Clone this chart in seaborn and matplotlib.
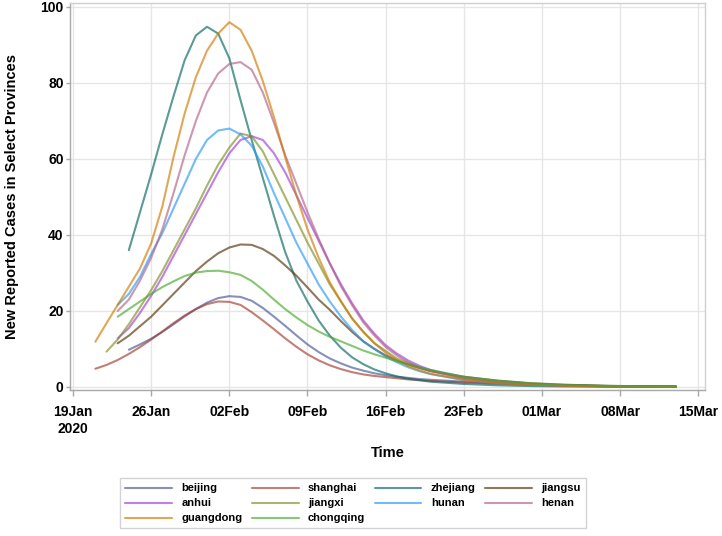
import pandas as pd
import seaborn as sns
import matplotlib.pyplot as plt

# ---- data ----
provinces = ["beijing", "shanghai", "zhejiang", "jiangsu", "anhui",
             "jiangxi", "hunan", "henan", "guangdong", "chongqing"]
start_dates = {"beijing": "2020-01-24", "shanghai": "2020-01-21", "zhejiang": "2020-01-24",
               "jiangsu": "2020-01-23", "anhui": "2020-01-23", "jiangxi": "2020-01-22",
               "hunan": "2020-01-23", "henan": "2020-01-23", "guangdong": "2020-01-21",
               "chongqing": "2020-01-23"}
daily_end = "2020-02-20"
tail_dates = ["2020-02-23", "2020-02-26", "2020-02-29", "2020-03-03", "2020-03-07", "2020-03-13"]

beijing = [9.8, 11.2, 12.7, 14.5, 16.5, 18.6, 20.5, 22.2, 23.4, 23.9, 23.7, 22.7, 20.8, 18.5,
           16.1, 13.6, 11.2, 9.2, 7.5, 6.2, 5.1, 4.3, 3.6, 3.1, 2.7, 2.4, 2.1, 1.9,
           1.4, 1.0, 0.7, 0.45, 0.25, 0.1]
shanghai = [4.8, 5.8, 7.1, 8.7, 10.5, 12.5, 14.6, 16.8, 18.8, 20.5, 21.8, 22.5, 22.4, 21.6,
            19.7, 17.5, 15.2, 12.8, 10.6, 8.6, 7.0, 5.7, 4.7, 3.9, 3.3, 2.9, 2.6, 2.3, 2.0,
            1.8, 1.6, 1.2, 0.9, 0.6, 0.4, 0.2, 0.1]
zhejiang = [36, 46, 56, 66.5, 76.5, 86, 92.5, 94.8, 93, 86.5, 75.5, 65, 55, 45, 35.5, 28,
            22.5, 17.5, 13.5, 10.3, 7.8, 6.0, 4.6, 3.6, 2.8, 2.2, 1.8, 1.4,
            0.8, 0.45, 0.25, 0.15, 0.08, 0.03]
jiangsu = [11.5, 13.5, 16, 18.5, 21.5, 24.5, 27.5, 30.5, 33, 35.2, 36.7, 37.5, 37.4, 36.3,
           34.5, 32, 29.3, 26.2, 23, 20.3, 17.3, 14.5, 12, 10, 8.3, 7, 5.9, 5.0, 4.2,
           2.7, 1.7, 1.0, 0.6, 0.3, 0.1]
anhui = [12.8, 15.5, 19.5, 24, 29, 34.5, 40, 45.5, 51, 56.5, 61.5, 65, 66, 65, 61.5, 56.5,
         50.5, 44.5, 38.5, 32.5, 27, 22, 17.5, 14, 11, 8.8, 7, 5.6, 4.5,
         2.4, 1.3, 0.7, 0.4, 0.2, 0.08]
jiangxi = [9.3, 12.5, 16.5, 21, 25.5, 30.5, 36, 41.5, 47, 53, 58.5, 63, 66.7, 66, 62, 56,
           50, 44, 38, 32.5, 27, 22.5, 18, 14.5, 11.5, 9.5, 7.5, 6.3, 5.2, 4.3,
           2.3, 1.3, 0.7, 0.4, 0.2, 0.08]
hunan = [21.6, 24.5, 29, 35, 40.5, 47, 53.5, 60, 65, 67.5, 68, 66.5, 63.5, 58, 51, 44.5,
         38, 32.5, 27, 22.5, 18.5, 15, 12, 10, 8, 6.5, 5.2, 4.2, 3.4,
         1.8, 1.0, 0.55, 0.3, 0.15, 0.05]
henan = [20, 23, 28, 34, 41.5, 51, 61, 70, 77.5, 82.5, 85, 85.5, 83.5, 77.5, 69.5, 61,
         53.5, 46, 39, 32.5, 26.5, 21.5, 17, 13.5, 10.5, 8.3, 6.5, 5.2, 4.2,
         2.2, 1.2, 0.65, 0.35, 0.18, 0.06]
guangdong = [11.9, 16.8, 21.6, 26.4, 31.2, 37.8, 47.5, 60.5, 72, 81.5, 88.5, 93, 96, 94,
             88.5, 80.5, 71, 60.5, 50.5, 41.5, 34, 27.5, 22.5, 18, 14.5, 11.5, 9, 7, 5.5,
             4.4, 3.5, 1.9, 1.0, 0.55, 0.3, 0.15, 0.05]
chongqing = [18.5, 20.5, 22.5, 24.5, 26.3, 27.8, 29.2, 30.1, 30.5, 30.6, 30.2, 29.5, 27.9,
             25.6, 23, 20.5, 18.3, 16.3, 14.6, 13.2, 12, 10.8, 9.6, 8.6, 7.7, 6.8, 6.0,
             5.2, 4.5, 2.7, 1.6, 0.95, 0.55, 0.28, 0.1]

series = {"beijing": beijing, "shanghai": shanghai, "zhejiang": zhejiang, "jiangsu": jiangsu,
          "anhui": anhui, "jiangxi": jiangxi, "hunan": hunan, "henan": henan,
          "guangdong": guangdong, "chongqing": chongqing}

tick_dates = ["2020-01-19", "2020-01-26", "2020-02-02", "2020-02-09", "2020-02-16",
              "2020-02-23", "2020-03-01", "2020-03-08", "2020-03-15"]
tick_labels = ["19Jan\n2020", "26Jan", "02Feb", "09Feb", "16Feb", "23Feb", "01Mar", "08Mar", "15Mar"]
y_ticks = [0, 20, 40, 60, 80, 100]

palette = {"beijing": "#445694", "shanghai": "#A23A2E", "zhejiang": "#01665E",
           "jiangsu": "#543005", "anhui": "#9D3CDB", "jiangxi": "#7F8E1F",
           "hunan": "#2597FA", "henan": "#B26084", "guangdong": "#D17800",
           "chongqing": "#47A82A"}

# ---- long table ----
rows = []
for p in provinces:
    dates = list(pd.date_range(start_dates[p], daily_end)) + list(pd.to_datetime(tail_dates))
    vals = series[p]
    assert len(dates) == len(vals), p
    for d, v in zip(dates, vals):
        rows.append({"Time": d, "cases": v, "province": p})
df = pd.DataFrame(rows)

# ---- plot ----
sns.set_style("white")
plt.rcParams['font.family'] = ['Liberation Sans', 'DejaVu Sans']
plt.rcParams['font.weight'] = 'bold'
plt.rcParams['text.color'] = 'black'
plt.rcParams['axes.labelcolor'] = 'black'
plt.rcParams['xtick.labelcolor'] = 'black'
plt.rcParams['ytick.labelcolor'] = 'black'

fig = plt.figure(figsize=(7.22, 5.36), dpi=100)
ax = fig.add_axes([70 / 722, 1 - 389.5 / 536, 635 / 722, 386.5 / 536])

sns.lineplot(data=df, x="Time", y="cases", hue="province", hue_order=provinces,
             palette=palette, linewidth=1.5, alpha=0.65, ax=ax)

t0 = pd.Timestamp("2020-01-19")
ax.set_xlim(t0 - pd.Timedelta(days=0.27), t0 + pd.Timedelta(days=56.6))
ax.set_ylim(-0.66, 101.05)
ax.set_xticks(pd.to_datetime(tick_dates))
ax.set_xticklabels(tick_labels)
ax.set_yticks(y_ticks)

ax.grid(True, color="#E6E6E6", linewidth=1)
ax.set_axisbelow(True)
for s in ["left", "bottom"]:
    ax.spines[s].set_color("#A8A8A8")
for s in ["top", "right"]:
    ax.spines[s].set_color("#CFCFCF")
for s in ax.spines.values():
    s.set_linewidth(1)

ax.tick_params(axis="x", length=4.5, width=1, color="#A8A8A8", pad=7, labelsize=10,
               labelcolor="black")
ax.tick_params(axis="y", length=3, width=1, color="#A8A8A8", pad=1.5, labelsize=10,
               labelcolor="black")
ax.tick_params(bottom=True, left=True)

ax.set_xlabel("Time", fontsize=10.5, fontweight="bold", color="black")
ax.set_ylabel("New Reported Cases in Select Provinces", fontsize=10.5, fontweight="bold",
              color="black")
ax.xaxis.set_label_coords(0.5, (389.5 - 453) / 386.5)
ax.xaxis.label.set_va("center")
ax.yaxis.set_label_coords((12 - 70) / 635, 0.5)
ax.yaxis.label.set_va("center")
ax.yaxis.label.set_ha("center")

# legend, row-wise order like the original
handles, labels = ax.get_legend_handles_labels()
ax.get_legend().remove()
hmap = dict(zip(labels, handles))
order = ["beijing", "anhui", "guangdong", "shanghai", "jiangxi", "chongqing",
         "zhejiang", "hunan", "jiangsu", "henan"]
leg = fig.legend([hmap[k] for k in order], order, loc="lower center",
                 bbox_to_anchor=(353 / 722, 2 / 536), ncol=4, fontsize=8,
                 frameon=True, fancybox=False, edgecolor="#C8C8C8",
                 handlelength=4.2, handletextpad=0.85, columnspacing=0.85,
                 labelspacing=0.45, borderpad=0.45)
leg.get_frame().set_linewidth(1)
for line in leg.get_lines():
    line.set_linewidth(1.5)
for t in leg.get_texts():
    t.set_color("black")

fig.savefig("out.png", dpi=100)
